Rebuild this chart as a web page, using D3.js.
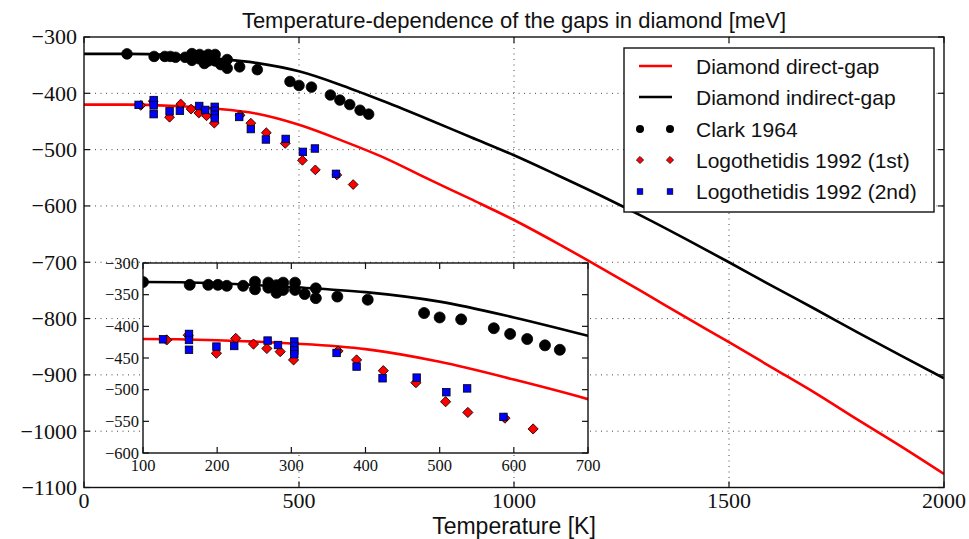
<!DOCTYPE html>
<html>
<head>
<meta charset="utf-8">
<script src="https://cdn.jsdelivr.net/npm/d3@7/dist/d3.min.js"></script>
<style>
  html, body { margin: 0; padding: 0; background: #fff; }
  svg { display: block; }
</style>
</head>
<body>
<svg id="chart" width="969" height="539"></svg>
<script>
// Temperatures (K) at which the model gap curves are tabulated
const temps = [0,100,200,300,400,500,600,700,800,900,1000,1100,1200,1300,1400,1500,1600,1700,1800,1900,2000];
// Direct and indirect gap renormalisation (meV)
const directGap   = [-420,-420,-422,-427,-436,-456,-484,-515,-552,-588,-625,-666,-709,-753,-798,-842,-887,-932,-980,-1027,-1076];
const indirectGap = [-330,-330,-332,-338,-346,-361,-386,-415,-446,-478,-510,-545,-581,-619,-659,-700,-742,-783,-825,-866,-906];

// Experimental data: Clark 1964
const clarkT = [100,163,188,201,213,235,251,251,269,269,280,280,289,289,305,305,318,333,333,362,403,479,500,529,573,595,618,642,662];
const clarkE = [-330,-334.5,-334.5,-334.5,-336,-336,-329.5,-341.5,-331,-339,-335,-347,-331,-342.5,-331,-342.5,-349,-340,-355.5,-353,-358,-379,-386,-389,-403,-412,-420,-430,-437];
// Logothetidis 1992, first gap
const logo1T = [132,161,199,225,249,267,285,303,363,388,424,468,508,538,588,626];
const logo1E = [-421.5,-414,-442.5,-419,-428,-435,-440,-453,-439,-453,-470,-489,-519,-536,-545,-562];
// Logothetidis 1992, second gap
const logo2T = [127,162,162,162,199,223,268,282,304,304,304,304,361,388,423,469,509,537,586];
const logo2E = [-420.5,-412,-421.5,-437,-432,-431,-422.5,-429.5,-424,-431,-438,-444,-442,-463.5,-482,-481,-504,-498,-543];

// Axis ticks
const mainXTicks = [0,500,1000,1500,2000];
const mainYTicks = [-300,-400,-500,-600,-700,-800,-900,-1000,-1100];
const insetXTicks = [100,200,300,400,500,600,700];
const insetYTicks = [-300,-350,-400,-450,-500,-550,-600];

const titleText = "Temperature-dependence of the gaps in diamond [meV]";
const xLabelText = "Temperature [K]";
const legendLabels = ["Diamond direct-gap","Diamond indirect-gap","Clark 1964","Logothetidis 1992 (1st)","Logothetidis 1992 (2nd)"];

const SANS = "'Liberation Sans', Arial, sans-serif";
const SERIF = "'Liberation Serif', 'Times New Roman', serif";
const RED = "#ff0000", BLUE = "#0000ff", BLACK = "#000000";

const svg = d3.select("#chart");
const zip = (a, b) => a.map((v, i) => [v, b[i]]);

// ---------- main axes ----------
const M = { left: 84, right: 944, top: 37, bottom: 487.5 };
const x = d3.scaleLinear().domain([0, 2000]).range([M.left, M.right]);
const y = d3.scaleLinear().domain([-1100, -300]).range([M.bottom, M.top]);

svg.append("defs").call(defs => {
  defs.append("clipPath").attr("id", "clipMain")
    .append("rect").attr("x", M.left).attr("y", M.top)
    .attr("width", M.right - M.left).attr("height", M.bottom - M.top);
});

const main = svg.append("g");

// dotted grid
main.append("g").selectAll("line").data(mainXTicks.slice(1, -1)).join("line")
  .attr("x1", d => x(d)).attr("x2", d => x(d)).attr("y1", M.top).attr("y2", M.bottom)
  .attr("stroke", "#444").attr("stroke-width", 1).attr("stroke-dasharray", "1,4.5");
main.append("g").selectAll("line").data(mainYTicks.slice(1, -1)).join("line")
  .attr("y1", d => y(d)).attr("y2", d => y(d)).attr("x1", M.left).attr("x2", M.right)
  .attr("stroke", "#444").attr("stroke-width", 1).attr("stroke-dasharray", "1,4.5");

function drawSeries(g, sx, sy, clipId, sz) {
  const line = d3.line().x(d => sx(d[0])).y(d => sy(d[1])).curve(d3.curveMonotoneX);
  const plot = g.append("g").attr("clip-path", `url(#${clipId})`);
  plot.append("path").datum(zip(temps, directGap)).attr("d", line)
    .attr("fill", "none").attr("stroke", RED).attr("stroke-width", 2.6);
  plot.append("path").datum(zip(temps, indirectGap)).attr("d", line)
    .attr("fill", "none").attr("stroke", BLACK).attr("stroke-width", 2.6);
  plot.append("g").selectAll("circle").data(zip(clarkT, clarkE)).join("circle")
    .attr("cx", d => sx(d[0])).attr("cy", d => sy(d[1])).attr("r", sz.circle)
    .attr("fill", BLACK).attr("stroke", BLACK).attr("stroke-width", 0.8);
  const diamond = d3.symbol().type(d3.symbolSquare).size(sz.diamond);
  plot.append("g").selectAll("path").data(zip(logo1T, logo1E)).join("path")
    .attr("d", diamond())
    .attr("transform", d => `translate(${sx(d[0])},${sy(d[1])}) rotate(45)`)
    .attr("fill", RED).attr("stroke", BLACK).attr("stroke-width", 0.8);
  plot.append("g").selectAll("rect").data(zip(logo2T, logo2E)).join("rect")
    .attr("x", d => sx(d[0]) - sz.square / 2).attr("y", d => sy(d[1]) - sz.square / 2)
    .attr("width", sz.square).attr("height", sz.square)
    .attr("fill", BLUE).attr("stroke", BLACK).attr("stroke-width", 0.8);
}

drawSeries(main, x, y, "clipMain", { circle: 5.3, diamond: 48, square: 7.5 });

function frame(g, sx, sy, box, xt, yt, tick, fs, ypad, xbase) {
  g.append("rect").attr("x", box.left).attr("y", box.top)
    .attr("width", box.right - box.left).attr("height", box.bottom - box.top)
    .attr("fill", "none").attr("stroke", "#111").attr("stroke-width", 1.4);
  const t = g.append("g").attr("stroke", "#111").attr("stroke-width", 1.2);
  xt.forEach(v => {
    t.append("line").attr("x1", sx(v)).attr("x2", sx(v)).attr("y1", box.bottom).attr("y2", box.bottom - tick);
    t.append("line").attr("x1", sx(v)).attr("x2", sx(v)).attr("y1", box.top).attr("y2", box.top + tick);
  });
  yt.forEach(v => {
    t.append("line").attr("y1", sy(v)).attr("y2", sy(v)).attr("x1", box.left).attr("x2", box.left + tick);
    t.append("line").attr("y1", sy(v)).attr("y2", sy(v)).attr("x1", box.right).attr("x2", box.right - tick);
  });
  g.append("g").selectAll("text").data(xt).join("text")
    .attr("x", d => sx(d)).attr("y", xbase).attr("text-anchor", "middle")
    .attr("font-family", SERIF).attr("font-size", fs).attr("fill", "#111")
    .text(d => String(d).replace("-", "\u2212"));
  g.append("g").selectAll("text").data(yt).join("text")
    .attr("x", box.left - ypad).attr("y", d => sy(d)).attr("dy", "0.34em").attr("text-anchor", "end")
    .attr("font-family", SERIF).attr("font-size", fs).attr("fill", "#111")
    .text(d => String(d).replace("-", "\u2212"));
}

frame(main, x, y, M, mainXTicks, mainYTicks, 6, 22, 7, 508);

// title and axis label
svg.append("text").attr("x", (M.left + M.right) / 2).attr("y", 28).attr("text-anchor", "middle")
  .attr("font-family", SANS).attr("font-size", 22).attr("fill", "#111").text(titleText);
svg.append("text").attr("x", (M.left + M.right) / 2).attr("y", 534).attr("text-anchor", "middle")
  .attr("font-family", SANS).attr("font-size", 23).attr("fill", "#111").text(xLabelText);

// ---------- legend ----------
const L = { x: 624, y: 48, w: 310, h: 164 };
const leg = svg.append("g");
leg.append("rect").attr("x", L.x).attr("y", L.y).attr("width", L.w).attr("height", L.h)
  .attr("fill", "#fff").attr("stroke", "#111").attr("stroke-width", 1.4);
const rowY = [66, 97, 129, 160, 191.5];
leg.append("line").attr("x1", 639).attr("x2", 672).attr("y1", rowY[0]).attr("y2", rowY[0])
  .attr("stroke", RED).attr("stroke-width", 2.6);
leg.append("line").attr("x1", 639).attr("x2", 672).attr("y1", rowY[1]).attr("y2", rowY[1])
  .attr("stroke", BLACK).attr("stroke-width", 2.6);
[640, 670].forEach(mx => {
  leg.append("circle").attr("cx", mx).attr("cy", rowY[2]).attr("r", 4).attr("fill", BLACK);
  leg.append("path").attr("d", d3.symbol().type(d3.symbolSquare).size(26)())
    .attr("transform", `translate(${mx},${rowY[3]}) rotate(45)`)
    .attr("fill", RED).attr("stroke", BLACK).attr("stroke-width", 0.7);
  leg.append("rect").attr("x", mx - 2.8).attr("y", rowY[4] - 2.8).attr("width", 5.6).attr("height", 5.6)
    .attr("fill", BLUE).attr("stroke", BLACK).attr("stroke-width", 0.7);
});
leg.append("g").selectAll("text").data(legendLabels).join("text")
  .attr("x", 696).attr("y", (d, i) => rowY[i]).attr("dy", "0.36em")
  .attr("font-family", SANS).attr("font-size", 21).attr("fill", "#111").text(d => d);

// ---------- inset axes ----------
const I = { left: 143, right: 588, top: 263, bottom: 453 };
const ix = d3.scaleLinear().domain([100, 700]).range([I.left, I.right]);
const iy = d3.scaleLinear().domain([-600, -300]).range([I.bottom, I.top]);
svg.select("defs").append("clipPath").attr("id", "clipInset")
  .append("rect").attr("x", I.left).attr("y", I.top)
  .attr("width", I.right - I.left).attr("height", I.bottom - I.top);

const inset = svg.append("g");
inset.append("rect").attr("x", I.left).attr("y", I.top)
  .attr("width", I.right - I.left).attr("height", I.bottom - I.top).attr("fill", "#fff");
drawSeries(inset, ix, iy, "clipInset", { circle: 5.5, diamond: 52, square: 7.5 });
frame(inset, ix, iy, I, insetXTicks, insetYTicks, 6, 16.5, 4, 471);
</script>
</body>
</html>
